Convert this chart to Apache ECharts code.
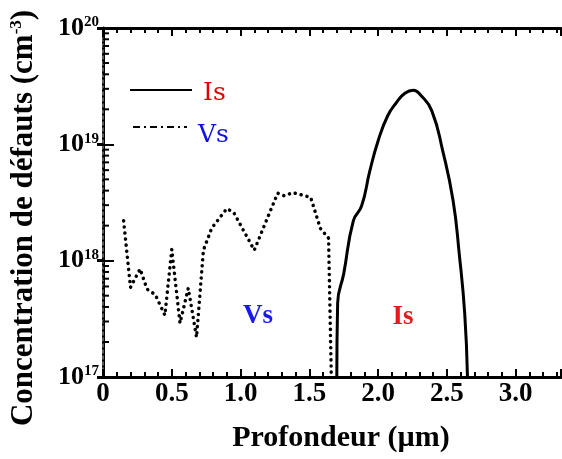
<!DOCTYPE html>
<html>
<head>
<meta charset="utf-8">
<script src="https://cdn.jsdelivr.net/npm/echarts@6/dist/echarts.min.js"></script>
<style>html,body{margin:0;padding:0;background:#fff}#c{width:562px;height:459px}</style>
</head>
<body>
<div id="c"></div>
<script>
// Is (interstitials) profile
const isDepth = [1.70, 1.706, 1.75, 1.82, 1.88, 1.94, 2.00, 2.07, 2.135, 2.195, 2.255, 2.315, 2.39, 2.47, 2.545, 2.59, 2.63, 2.65];
const isConc  = [1e17, 4.3e17, 7.7e17, 2.2e18, 2.95e18, 5.9e18, 1.07e19, 1.76e19, 2.3e19, 2.75e19, 2.92e19, 2.6e19, 1.95e19, 8.8e18, 3.3e18, 1.15e18, 3.5e17, 1e17];
// Vs (vacancies) profile
const vsDepth = [0.15, 0.20, 0.27, 0.32, 0.38, 0.45, 0.50, 0.56, 0.62, 0.68, 0.73, 0.79, 0.90, 0.95, 1.10, 1.18, 1.27, 1.32, 1.38, 1.51, 1.58, 1.64, 1.66];
const vsConc  = [2.2e18, 5.9e17, 8.5e17, 5.7e17, 5.1e17, 3.4e17, 1.25e18, 2.9e17, 5.8e17, 2.2e17, 1.23e18, 1.9e18, 2.8e18, 2.6e18, 1.23e18, 2.1e18, 3.8e18, 3.6e18, 3.85e18, 3.5e18, 1.9e18, 1.56e18, 1e17];
// axes
const xMin = 0, xMax = 3.33, xStep = 0.5;
const yMin = 1e17, yMax = 1e20;
const yDecades = [17, 18, 19];
const minorMultipliers = [2, 3, 4, 5, 6, 7, 8, 9];
const xTitle = 'Profondeur (µm)';
const yTitle = 'Concentration de défauts (cm';
const yTitleSup = '-3';

const isData = isDepth.map((d, i) => [d, isConc[i]]);
const vsData = vsDepth.map((d, i) => [d, vsConc[i]]);
const minorData = [];
yDecades.forEach(e => minorMultipliers.forEach(m => minorData.push([0, m * Math.pow(10, e)])));

const serif = 'Liberation Serif';
const chart = echarts.init(document.getElementById('c'));
const xCommon = {
  type: 'value', min: xMin, max: xMax, interval: xStep,
  axisLine: { show: true, lineStyle: { color: '#000', width: 3 } },
  axisTick: { show: true, inside: true, length: 8, lineStyle: { color: '#000', width: 2 } },
  minorTick: { show: true, splitNumber: 5, length: 5, lineStyle: { color: '#000', width: 2 } },
  splitLine: { show: false }, minorSplitLine: { show: false }
};
chart.setOption({
  animation: false,
  grid: { left: 101, right: 1, top: 28, bottom: 82 },
  xAxis: [
    Object.assign({}, xCommon, {
      position: 'bottom',
      name: xTitle, nameLocation: 'middle', nameGap: 46,
      nameTextStyle: { fontFamily: serif, fontWeight: 'bold', fontSize: 30, color: '#000', padding: [0, 0, 0, 18] },
      axisLabel: {
        margin: 4, showMaxLabel: false, color: '#000', fontFamily: serif, fontWeight: 'bold', fontSize: 27,
        formatter: v => v === 0 ? '0' : v.toFixed(1)
      }
    }),
    Object.assign({}, xCommon, { position: 'top', axisLabel: { show: false } })
  ],
  yAxis: [
    {
      type: 'log', logBase: 10, min: yMin, max: yMax, position: 'left',
      axisLine: { show: true, lineStyle: { color: '#000', width: 3 } },
      axisTick: { show: true, inside: true, length: 11, lineStyle: { color: '#000', width: 2 } },
      splitLine: { show: false },
      name: '{t|' + yTitle + '}{s|' + yTitleSup + '}{t|)}',
      nameLocation: 'middle', nameGap: 64, nameRotate: 90,
      nameTextStyle: {
        padding: [0, 31, 0, 0],
        rich: {
          t: { fontFamily: serif, fontWeight: 'bold', fontSize: 31, color: '#000' },
          s: { fontFamily: serif, fontWeight: 'bold', fontSize: 17, color: '#000', verticalAlign: 'top' }
        }
      },
      axisLabel: {
        margin: 4,
        formatter: v => '{b|10}{s|' + Math.round(Math.log10(v)) + '}',
        rich: {
          b: { fontFamily: serif, fontWeight: 'bold', fontSize: 26, color: '#000' },
          s: { fontFamily: serif, fontWeight: 'bold', fontSize: 15, color: '#000', verticalAlign: 'top' }
        }
      }
    },
    {
      type: 'log', logBase: 10, min: yMin, max: yMax, position: 'right',
      axisLine: { show: true, lineStyle: { color: '#777', width: 1.5, type: [3, 3] } },
      axisTick: { show: true, inside: true, length: 6, lineStyle: { color: '#000', width: 3 } },
      axisLabel: { show: false }, splitLine: { show: false }
    }
  ],
  series: [
    {
      type: 'line', name: 'Is', data: isData, showSymbol: false, smooth: 0.5,
      lineStyle: { color: '#000', width: 3 }, xAxisIndex: 0, yAxisIndex: 0
    },
    {
      type: 'line', name: 'Vs', data: vsData, showSymbol: false,
      lineStyle: { color: '#000', width: 3.5, type: [0.1, 6], cap: 'round' }, xAxisIndex: 0, yAxisIndex: 0
    },
    {
      type: 'custom', name: 'minor', data: minorData, silent: true, xAxisIndex: 0, yAxisIndex: 0,
      renderItem: (params, api) => {
        const p = api.coord([api.value(0), api.value(1)]);
        return { type: 'line', shape: { x1: p[0], y1: p[1], x2: p[0] + 6, y2: p[1] }, style: { stroke: '#000', lineWidth: 2 } };
      }
    }
  ],
  graphic: [
    { type: 'line', shape: { x1: 130, y1: 90, x2: 192, y2: 90 }, style: { stroke: '#000', lineWidth: 2 } },
    { type: 'text', x: 203, y: 93, style: { text: 'Is', fill: '#e00000', font: '25px "DejaVu Serif"', verticalAlign: 'middle' } },
    { type: 'line', shape: { x1: 133, y1: 127, x2: 187, y2: 127 }, style: { stroke: '#000', lineWidth: 2, lineDash: [7, 4, 2, 4] } },
    { type: 'text', x: 198, y: 135, style: { text: 'Vs', fill: '#1010e0', font: '25px "DejaVu Serif"', verticalAlign: 'middle' } },
    { type: 'text', x: 258, y: 316, style: { text: 'Vs', fill: '#1a1ae6', font: 'bold 27px "Liberation Serif"', align: 'center', verticalAlign: 'middle' } },
    { type: 'text', x: 403, y: 317, style: { text: 'Is', fill: '#e61a1a', font: 'bold 27px "Liberation Serif"', align: 'center', verticalAlign: 'middle' } }
  ]
});
</script>
</body>
</html>
